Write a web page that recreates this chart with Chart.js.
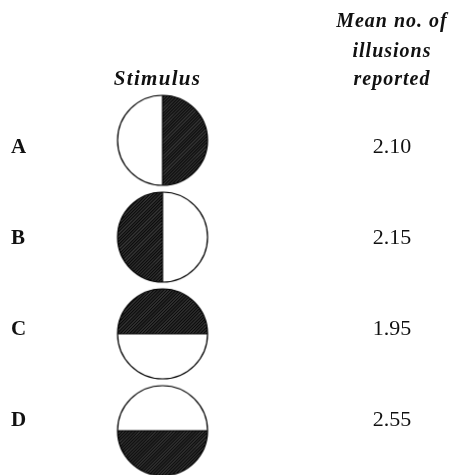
<!DOCTYPE html>
<html>
<head>
<meta charset="utf-8">
<script src="https://cdn.jsdelivr.net/npm/chart.js@4"></script>
<style>
  html, body { margin: 0; padding: 0; background: #fff; }
  #wrap { width: 456px; height: 475px; position: relative; }
</style>
</head>
<body>
<div id="wrap"><canvas id="chart"></canvas></div>
<script>
const stimulusLabels = ['A', 'B', 'C', 'D'];
const shadedHalves = ['right', 'left', 'top', 'bottom'];
const meanIllusions = [2.10, 2.15, 1.95, 2.55];
const headerStimulus = 'Stimulus';
const headerMean = ['Mean no. of', 'illusions', 'reported'];

// half-hatched disc used as point style
function makeStimulus(half, r) {
    let pad = 2;
    let size = Math.ceil(2 * r + 2 * pad);
    let c = document.createElement('canvas');
    c.width = size;
    c.height = size;
    let g = c.getContext('2d');
    let cx = size / 2, cy = size / 2;
    g.fillStyle = '#fff';
    g.beginPath();
    g.arc(cx, cy, r, 0, Math.PI * 2);
    g.fill();
    g.save();
    g.beginPath();
    g.arc(cx, cy, r, 0, Math.PI * 2);
    g.clip();
    g.beginPath();
    if (half === 'right') g.rect(cx, 0, size, size);
    else if (half === 'left') g.rect(0, 0, cx, size);
    else if (half === 'top') g.rect(0, 0, size, cy);
    else g.rect(0, cy, size, size);
    g.clip();
    g.strokeStyle = '#0a0a0a';
    g.lineWidth = 2.2;
    for (let k = -size; k < 2 * size; k += 3.2) {
        g.beginPath();
        g.moveTo(k, size);
        g.lineTo(k + size, 0);
        g.stroke();
    }
    g.restore();
    g.strokeStyle = '#000';
    g.lineWidth = 1.2;
    g.beginPath();
    if (half === 'left' || half === 'right') {
        g.moveTo(cx, cy - r);
        g.lineTo(cx, cy + r);
    } else {
        g.moveTo(cx - r, cy);
        g.lineTo(cx + r, cy);
    }
    g.stroke();
    g.beginPath();
    g.arc(cx, cy, r, 0, Math.PI * 2);
    g.stroke();
    return c;
}

const stimulusImages = shadedHalves.map(h => makeStimulus(h, 45));

const textPlugin = {
    id: 'tableText',
    afterDatasetsDraw(chart) {
        let ctx = chart.ctx;
        let area = chart.chartArea;
        let xs = chart.scales.x;
        ctx.save();
        ctx.fillStyle = '#111';
        ctx.textBaseline = 'alphabetic';
        // headers
        ctx.textAlign = 'center';
        ctx.font = 'italic bold 21px "Liberation Serif"';
        ctx.letterSpacing = '1.3px';
        ctx.fillText(headerStimulus, xs.getPixelForValue(1) - 5, 85);
        ctx.font = 'italic bold 20px "Liberation Serif"';
        ctx.letterSpacing = '1px';
        let hy = [27, 57, 85];
        headerMean.forEach((t, i) => ctx.fillText(t, xs.getPixelForValue(2), hy[i]));
        ctx.letterSpacing = '0px';
        // row letters and values
        let meta = chart.getDatasetMeta(1);
        meta.data.forEach((pt, i) => {
            ctx.textAlign = 'left';
            ctx.font = 'bold 21px "Liberation Serif"';
            ctx.fillText(stimulusLabels[i], area.left + 11, pt.y);
            ctx.textAlign = 'center';
            ctx.font = '22px "Liberation Serif"';
            ctx.fillText(meanIllusions[i].toFixed(2), pt.x, pt.y);
        });
        ctx.restore();
    }
};

new Chart(document.getElementById('chart'), {
    type: 'scatter',
    data: {
        datasets: [
            {
                label: headerStimulus,
                data: stimulusLabels.map((s, i) => ({ x: 1, y: i })),
                pointStyle: stimulusImages,
                pointRadius: 45,
                yAxisID: 'y',
                clip: false
            },
            {
                label: 'Mean no. of illusions reported',
                data: meanIllusions.map((v, i) => ({ x: 2, y: i })),
                pointRadius: 0,
                yAxisID: 'y2',
                clip: false
            }
        ]
    },
    options: {
        responsive: true,
        maintainAspectRatio: false,
        animation: false,
        events: [],
        layout: { padding: 0, autoPadding: false },
        plugins: {
            legend: { display: false },
            tooltip: { enabled: false }
        },
        scales: {
            x: { type: 'linear', display: false, min: 0.2919, max: 2.2789 },
            y: { type: 'linear', display: false, reverse: true, min: -1.449, max: 3.458 },
            y2: { type: 'linear', display: false, reverse: true, min: -1.681, max: 3.533 }
        }
    },
    plugins: [textPlugin]
});
</script>
</body>
</html>
